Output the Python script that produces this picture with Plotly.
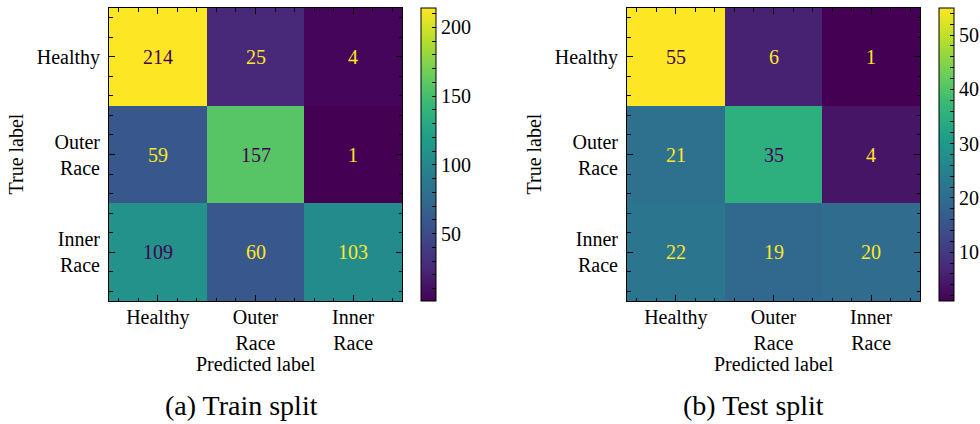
import plotly.graph_objects as go

# Confusion matrices (rows: true label, columns: predicted label)
class_labels = ["Healthy", "Outer<br>Race", "Inner<br>Race"]
train_counts = [[214, 25, 4],
                [59, 157, 1],
                [109, 60, 103]]
test_counts = [[55, 6, 1],
               [21, 35, 4],
               [22, 19, 20]]
train_caption = "(a) Train split"
test_caption = "(b) Test split"
train_cbar_major = [50, 100, 150, 200]
test_cbar_major = [10, 20, 30, 40, 50]
train_cbar_minor_step = 10
test_cbar_minor_step = 2

W, H = 980, 424
FONT = "Liberation Serif"
DARK = "#440154"
LIGHT = "#fde725"


def fx(px):
    return px / W


def fy(py):
    return 1 - py / H


# pixel geometry of each panel: plot box, colorbar, label anchors
panels = [
    dict(counts=train_counts, caption=train_caption, major=train_cbar_major,
         minor=train_cbar_minor_step, x0=109, x1=402, cb_x=421,
         ylab_x=16, cap_x=241),
    dict(counts=test_counts, caption=test_caption, major=test_cbar_major,
         minor=test_cbar_minor_step, x0=627, x1=920, cb_x=939,
         ylab_x=534, cap_x=753.5),
]
Y0, Y1 = 8, 301

fig = go.Figure()
annotations = []

for i, p in enumerate(panels):
    sfx = "" if i == 0 else str(i + 1)
    z = p["counts"]
    flat = [v for row in z for v in row]
    zmin, zmax = min(flat), max(flat)
    step = p["minor"]
    cb_vals = [v for v in range(0, zmax + 1, step) if v >= zmin]
    cb_text = [str(v) if v in p["major"] else "" for v in cb_vals]

    fig.add_trace(go.Heatmap(
        z=z, x=[0, 1, 2], y=[0, 1, 2],
        colorscale="Viridis", zmin=zmin, zmax=zmax,
        xaxis="x" + sfx, yaxis="y" + sfx,
        hoverinfo="z",
        colorbar=dict(
            x=fx(p["cb_x"]), xanchor="left", xpad=0, ypad=0,
            y=fy((Y0 + Y1) / 2), yanchor="middle",
            len=(Y1 - Y0) / H, lenmode="fraction",
            thickness=15, thicknessmode="pixels",
            outlinewidth=1, outlinecolor="black",
            tickmode="array", tickvals=cb_vals, ticktext=cb_text,
            ticks="inside", ticklen=4, tickwidth=1, tickcolor="black",
            tickfont=dict(family=FONT, size=20, color="black"),
        ),
    ))

    # cell counts, coloured for contrast against the cell fill
    thresh = (zmax + zmin) / 2
    for r, row in enumerate(z):
        for c, v in enumerate(row):
            annotations.append(dict(
                x=c, y=r, xref="x" + sfx, yref="y" + sfx, text=str(v),
                showarrow=False,
                font=dict(family=FONT, size=20,
                          color=DARK if v >= thresh else LIGHT),
            ))

    axis_common = dict(
        showgrid=False, zeroline=False, showline=True, linecolor="black",
        linewidth=1, mirror="ticks", ticks="inside", ticklen=6,
        tickwidth=1, tickcolor="black",
        tickmode="array", tickvals=[0, 1, 2], ticktext=class_labels,
        tickfont=dict(family=FONT, size=20, color="black"),
        minor=dict(ticks="inside", ticklen=3.5, tickwidth=1,
                   tickcolor="black", tickmode="linear", tick0=0, dtick=0.2),
    )
    fig.update_layout(**{
        "xaxis" + sfx: dict(axis_common, domain=[fx(p["x0"]), fx(p["x1"])],
                            range=[-0.5, 2.5], anchor="y" + sfx,
                            ticklabelstandoff=-2),
        "yaxis" + sfx: dict(axis_common, domain=[fy(Y1), fy(Y0)],
                            range=[2.5, -0.5], anchor="x" + sfx,
                            ticklabelstandoff=4),
    })

    annotations.append(dict(
        x=fx((p["x0"] + p["x1"]) / 2), y=fy(364), xref="paper", yref="paper",
        text="Predicted label", showarrow=False,
        xanchor="center", yanchor="middle",
        font=dict(family=FONT, size=20, color="black")))
    annotations.append(dict(
        x=fx(p["ylab_x"]), y=fy((Y0 + Y1) / 2), xref="paper", yref="paper",
        text="True label", showarrow=False, textangle=-90,
        xanchor="center", yanchor="middle",
        font=dict(family=FONT, size=20, color="black")))
    annotations.append(dict(
        x=fx(p["cap_x"]), y=fy(405), xref="paper", yref="paper",
        text=p["caption"], showarrow=False,
        xanchor="center", yanchor="middle",
        font=dict(family=FONT, size=28, color="black")))

fig.update_layout(
    width=W, height=H,
    margin=dict(l=0, r=0, t=0, b=0, autoexpand=False),
    paper_bgcolor="white", plot_bgcolor="white",
    font=dict(family=FONT, size=20, color="black"),
    annotations=annotations,
)

fig.write_html("out.html")
